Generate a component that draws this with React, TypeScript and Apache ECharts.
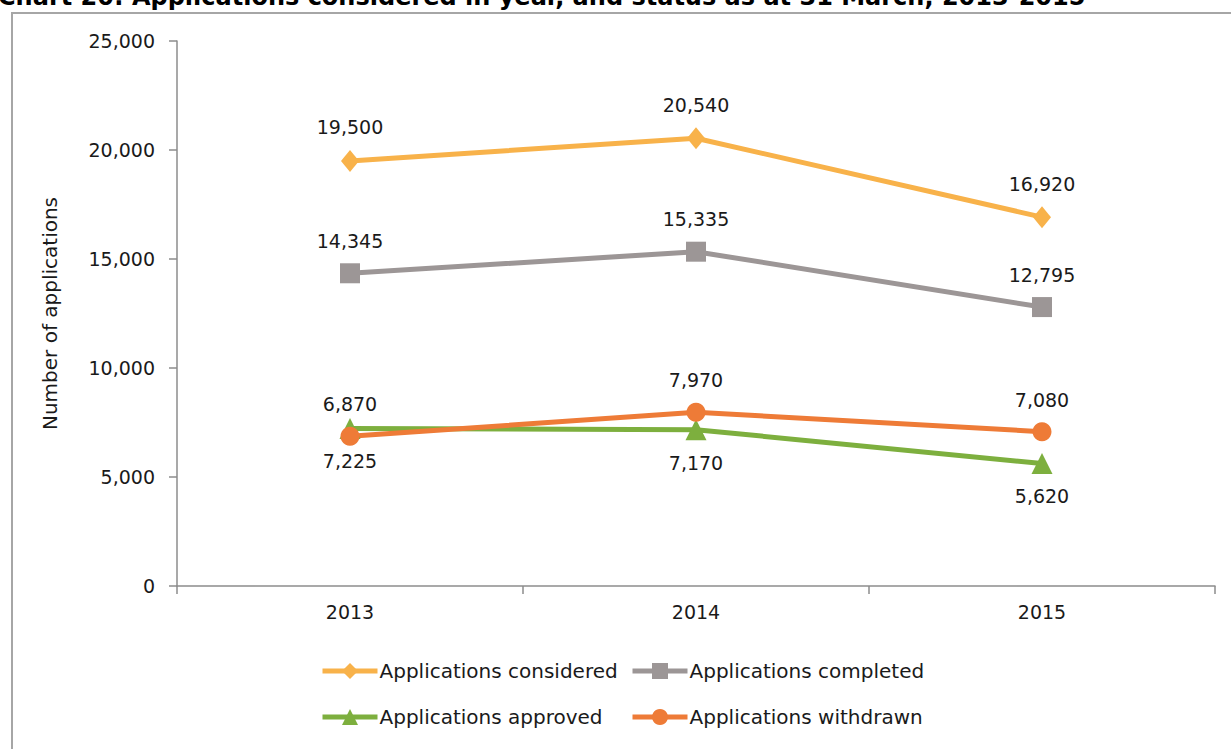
import React, { useEffect, useRef } from "react";
import * as echarts from "echarts";

const years = ["2013", "2014", "2015"];
const considered = [19500, 20540, 16920];
const completed = [14345, 15335, 12795];
const approved = [7225, 7170, 5620];
const withdrawn = [6870, 7970, 7080];
const seriesNames = [
  "Applications considered",
  "Applications completed",
  "Applications approved",
  "Applications withdrawn",
];
const titleText = "Chart 20: Applications considered in year, and status as at 31 March, 2013-2015";
const yAxisName = "Number of applications";

const FONT = "DejaVu Sans";
const fmt = (v: number) => Number(v).toLocaleString("en-US");

export default function App() {
  const ref = useRef<HTMLDivElement>(null);
  useEffect(() => {
    if (!ref.current) return;
    const chart = echarts.init(ref.current, null, { renderer: "svg" });
    const colors = ["#F8B24A", "#9C9696", "#7DAF3E", "#EE7B37"];
    const symbols = ["diamond", "rect", "triangle", "circle"];
    const sizes: any[] = [[18, 22], 20, 21, 19];
    const datas = [considered, completed, approved, withdrawn];
    const labelPos = ["top", "top", "bottom", "top"];
    const legendPos = [
      [320, 661],
      [630, 661],
      [320, 707],
      [630, 707],
    ];
    chart.setOption({
      animation: false,
      textStyle: { fontFamily: FONT },
      graphic: [
        {
          type: "rect",
          shape: { x: 12, y: 13, width: 1400, height: 900 },
          style: { fill: "none", stroke: "#A6A6A6", lineWidth: 2 },
          silent: true,
        },
        {
          type: "text",
          left: -2,
          top: -15,
          style: {
            text: titleText,
            font: `bold 24px ${FONT}`,
            fill: "#000",
          },
        },
      ],
      grid: { left: 177, right: 16, top: 41, bottom: 163, containLabel: false },
      legend: seriesNames.map((n, i) => ({
        data: [n],
        left: legendPos[i][0],
        top: legendPos[i][1],
        itemWidth: 55,
        itemHeight: 20,
        padding: 0,
        selectedMode: false,
        lineStyle: { width: 5 },
        textStyle: { fontSize: 20, color: "#1a1a1a", fontFamily: FONT, padding: [0, 0, 0, -3] },
      })),
      xAxis: {
        type: "category",
        data: years,
        boundaryGap: true,
        axisLine: { lineStyle: { color: "#8C8C8C", width: 1.5 } },
        axisTick: { show: true, length: 8, lineStyle: { color: "#8C8C8C", width: 1.5 } },
        axisLabel: { color: "#1a1a1a", fontSize: 19, margin: 16 },
      },
      yAxis: {
        type: "value",
        min: 0,
        max: 25000,
        interval: 5000,
        name: yAxisName,
        nameLocation: "middle",
        nameGap: 117,
        nameRotate: 90,
        nameTextStyle: { fontSize: 20, color: "#1a1a1a" },
        axisLine: { show: true, lineStyle: { color: "#8C8C8C", width: 1.5 } },
        axisTick: { show: true, length: 8, lineStyle: { color: "#8C8C8C", width: 1.5 } },
        splitLine: { show: false },
        axisLabel: { color: "#1a1a1a", fontSize: 19, margin: 22, formatter: (v: number) => fmt(v) },
      },
      series: seriesNames.map((n, i) => ({
        name: n,
        type: "line",
        data: datas[i],
        symbol: symbols[i],
        symbolSize: sizes[i],
        color: colors[i],
        lineStyle: { width: 5, color: colors[i] },
        itemStyle: { color: colors[i] },
        label: {
          show: true,
          position: labelPos[i],
          distance: 13,
          fontSize: 19,
          color: "#1a1a1a",
          formatter: (p: any) => fmt(p.value),
        },
      })),
    });
    return () => chart.dispose();
  }, []);
  return (
    <div
      ref={ref}
      style={{ position: "absolute", left: 0, top: 0, width: 1231, height: 749, background: "#fff" }}
    />
  );
}
